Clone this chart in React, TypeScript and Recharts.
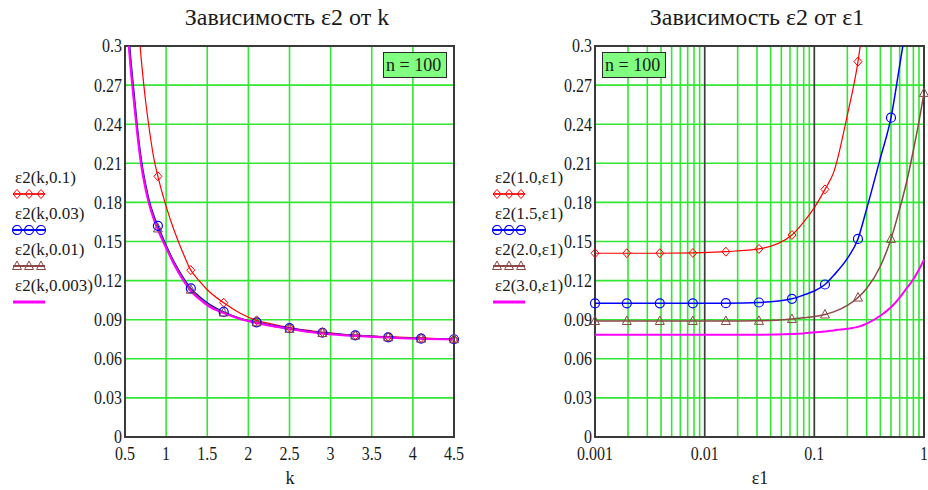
import React from "react";
import {
  LineChart,
  Line,
  XAxis,
  YAxis,
  CartesianGrid,
  ReferenceLine,
  ReferenceArea,
} from "recharts";

// ---- left chart: ε2 vs k ----
const kValues = [
  0.5, 0.55, 0.6, 0.65, 0.7, 0.75, 0.8, 0.85, 0.9, 1.0, 1.1, 1.2, 1.3, 1.4,
  1.5, 1.7, 1.9, 2.1, 2.3, 2.5, 2.7, 2.9, 3.3, 3.7, 4.1, 4.5,
];
const e2k01 = [
  0.5, 0.43, 0.37, 0.325, 0.288, 0.258, 0.234, 0.214, 0.2, 0.177, 0.158, 0.142,
  0.128, 0.12, 0.113, 0.103, 0.095, 0.0895, 0.0865, 0.084, 0.082, 0.0805,
  0.078, 0.077, 0.076, 0.075,
];
const e2k003 = [
  0.36, 0.306, 0.27, 0.238, 0.212, 0.194, 0.18, 0.17, 0.162, 0.147, 0.134,
  0.123, 0.114, 0.108, 0.103, 0.096, 0.091, 0.088, 0.0855, 0.0835, 0.0815,
  0.08, 0.078, 0.0765, 0.0755, 0.075,
];
const e2k001 = [
  0.355, 0.3, 0.265, 0.234, 0.209, 0.192, 0.178, 0.168, 0.16, 0.146, 0.133,
  0.122, 0.113, 0.107, 0.102, 0.0955, 0.091, 0.088, 0.085, 0.083, 0.081,
  0.0798, 0.0778, 0.0765, 0.0755, 0.075,
];
const e2k0003 = [
  0.35, 0.297, 0.262, 0.232, 0.207, 0.19, 0.177, 0.167, 0.159, 0.145, 0.132,
  0.121, 0.112, 0.106, 0.101, 0.095, 0.0905, 0.0875, 0.085, 0.083, 0.081,
  0.0795, 0.0775, 0.0763, 0.0753, 0.0748,
];
const kMarks = [0.9, 1.3, 1.7, 2.1, 2.5, 2.9, 3.3, 3.7, 4.1, 4.5];
const kTicks = [0.5, 1, 1.5, 2, 2.5, 3, 3.5, 4, 4.5];

// ---- right chart: ε2 vs ε1 (log) ----
const e1Values = [
  0.001, 0.00195, 0.0039, 0.0078, 0.0156, 0.03125, 0.0625, 0.08, 0.1, 0.125,
  0.15, 0.2, 0.25, 0.3, 0.4, 0.5, 0.6, 0.7, 0.8, 0.9, 1,
];
const e2k10 = [
  0.141, 0.141, 0.141, 0.1412, 0.1422, 0.1443, 0.155, 0.165, 0.176, 0.19,
  0.203, 0.247, 0.288, 0.34, null, null, null, null, null, null, null,
];
const e2k15 = [
  0.1026, 0.1026, 0.1026, 0.1026, 0.1027, 0.1032, 0.106, 0.109, 0.112, 0.117,
  0.124, 0.137, 0.152, 0.175, 0.214, 0.245, 0.285, 0.32, null, null, null,
];
const e2k20 = [
  0.089, 0.089, 0.089, 0.089, 0.089, 0.0891, 0.0905, 0.0915, 0.0925, 0.094,
  0.096, 0.101, 0.107, 0.114, 0.131, 0.152, 0.175, 0.197, 0.22, 0.242, 0.264,
];
const e2k30 = [
  0.0785, 0.0785, 0.0785, 0.0785, 0.0785, 0.0785, 0.079, 0.0795, 0.0803, 0.081,
  0.0818, 0.083, 0.0845, 0.087, 0.093, 0.0995, 0.107, 0.1145, 0.121, 0.1285,
  0.136,
];
const e1Marks = [
  0.001, 0.00195, 0.0039, 0.0078, 0.0156, 0.03125, 0.0625, 0.125, 0.25, 0.5, 1,
];
const e1Ticks = [
  0.001, 0.002, 0.003, 0.004, 0.005, 0.006, 0.007, 0.008, 0.009, 0.01, 0.02,
  0.03, 0.04, 0.05, 0.06, 0.07, 0.08, 0.09, 0.1, 0.2, 0.3, 0.4, 0.5, 0.6, 0.7,
  0.8, 0.9, 1,
];
const e1Labels = [0.001, 0.01, 0.1, 1];

const yTicks = [0, 0.03, 0.06, 0.09, 0.12, 0.15, 0.18, 0.21, 0.24, 0.27, 0.3];

const leftLegend = ["ε2(k,0.1)", "ε2(k,0.03)", "ε2(k,0.01)", "ε2(k,0.003)"];
const rightLegend = ["ε2(1.0,ε1)", "ε2(1.5,ε1)", "ε2(2.0,ε1)", "ε2(3.0,ε1)"];

const FONT = '"Liberation Serif", "Times New Roman", serif';
const TEXT = "#1a1a1a";
const GRID = "#33e633";
const BORDER = "#3a3a3a";
const RED = "#ff0000";
const BLUE = "#0000ff";
const BROWN = "#8c4646";
const MAGENTA = "#ff00ff";

type Shape = "diamond" | "circle" | "triangle" | "none";

const seriesStyle: { color: string; shape: Shape; width: number }[] = [
  { color: RED, shape: "diamond", width: 1.2 },
  { color: BLUE, shape: "circle", width: 1.5 },
  { color: BROWN, shape: "triangle", width: 1.5 },
  { color: MAGENTA, shape: "none", width: 2 },
];

function marker(shape: Shape, color: string, cx: number, cy: number, key?: any) {
  if (shape === "diamond")
    return (
      <polygon
        key={key}
        points={`${cx},${cy - 4.5} ${cx + 4},${cy} ${cx},${cy + 4.5} ${cx - 4},${cy}`}
        fill="none"
        stroke={color}
        strokeWidth={1}
      />
    );
  if (shape === "circle")
    return <circle key={key} cx={cx} cy={cy} r={4.5} fill="none" stroke={color} strokeWidth={1.2} />;
  if (shape === "triangle")
    return (
      <polygon
        key={key}
        points={`${cx},${cy - 5} ${cx + 4.5},${cy + 3.5} ${cx - 4.5},${cy + 3.5}`}
        fill="none"
        stroke={color}
        strokeWidth={1}
      />
    );
  return <g key={key} />;
}

function dotRenderer(shape: Shape, color: string, marks: number[], field: string) {
  return (props: any) => {
    const { cx, cy, payload, index } = props;
    if (cx == null || cy == null || !marks.includes(payload[field])) return <g key={index} />;
    return marker(shape, color, cx, cy, index);
  };
}

// Mathcad tick text looks a bit taller than plain Times, so stretch it vertically
function makeTick(side: "x" | "y", labels?: number[]) {
  return (props: any) => {
    const { x, y, payload } = props;
    const v = payload.value;
    if (labels && !labels.includes(v)) return <g />;
    return (
      <text
        x={x}
        y={y}
        dy={side === "x" ? "0.71em" : "0.35em"}
        textAnchor={side === "x" ? "middle" : "end"}
        fontSize={16}
        fontFamily={FONT}
        fill={TEXT}
        transform={`translate(0 ${y}) scale(1 1.15) translate(0 ${-y})`}
      >
        {String(v)}
      </text>
    );
  };
}

function Legend({ labels, left }: { labels: string[]; left: number }) {
  return (
    <div style={{ position: "absolute", left, top: 168, fontFamily: FONT, fontSize: 17, color: TEXT }}>
      {labels.map((t, i) => (
        <div key={t} style={{ height: 36, position: "relative" }}>
          <div style={{ position: "absolute", left: 1, top: 0, whiteSpace: "nowrap", lineHeight: "20px" }}>{t}</div>
          <svg width={40} height={10} style={{ position: "absolute", left: -2, top: 21 }}>
            <line x1={1} x2={33} y1={5} y2={5} stroke={seriesStyle[i].color} strokeWidth={seriesStyle[i].width + (i === 3 ? 1 : 0.5)} />
            {[5, 17, 29].map((x) => marker(seriesStyle[i].shape, seriesStyle[i].color, x, 5, x))}
          </svg>
        </div>
      ))}
    </div>
  );
}

function NBox({ left }: { left: number }) {
  return (
    <div
      style={{
        position: "absolute",
        left,
        top: 52,
        width: 64,
        height: 26,
        background: "#80ff80",
        border: "1.5px solid #2a2a2a",
        fontFamily: FONT,
        fontSize: 18,
        lineHeight: "25px",
        paddingLeft: 2,
        boxSizing: "border-box",
        whiteSpace: "nowrap",
        color: TEXT,
      }}
    >
      n = 100
    </div>
  );
}

function Title({ text, cx }: { text: string; cx: number }) {
  return (
    <div
      style={{
        position: "absolute",
        left: cx - 150,
        width: 300,
        top: 4,
        textAlign: "center",
        fontFamily: FONT,
        fontSize: 24,
        color: TEXT,
      }}
    >
      {text}
    </div>
  );
}

function AxisName({ text, cx }: { text: string; cx: number }) {
  return (
    <div
      style={{
        position: "absolute",
        left: cx - 30,
        width: 60,
        top: 468,
        textAlign: "center",
        fontFamily: FONT,
        fontSize: 18,
        color: TEXT,
      }}
    >
      {text}
    </div>
  );
}

export default function App() {
  const leftData = kValues.map((k, i) => ({
    k,
    s0: e2k01[i],
    s1: e2k003[i],
    s2: e2k001[i],
    s3: e2k0003[i],
  }));
  const rightData = e1Values.map((e, i) => ({
    e,
    s0: e2k10[i],
    s1: e2k15[i],
    s2: e2k20[i],
    s3: e2k30[i],
  }));

  const margin = { top: 46, bottom: 23, left: 85 };

  return (
    <div style={{ position: "absolute", left: 0, top: 0, width: 928, height: 490, background: "#fff", overflow: "hidden" }}>
      <Title text="Зависимость ε2 от k" cx={287} />
      <Title text="Зависимость ε2 от ε1" cx={757} />

      <div style={{ position: "absolute", left: 0, top: 0 }}>
        <LineChart width={470} height={490} data={leftData} margin={{ ...margin, right: 16 }}>
          <CartesianGrid stroke={GRID} strokeWidth={1.6} />
          <XAxis
            dataKey="k"
            type="number"
            domain={[0.5, 4.5]}
            ticks={kTicks}
            interval={0}
            height={30}
            tickSize={0}
            tickMargin={10}
            axisLine={false}
            tick={makeTick("x")}
          />
          <YAxis
            type="number"
            domain={[0, 0.3]}
            ticks={yTicks}
            interval={0}
            allowDataOverflow
            width={40}
            tickSize={0}
            tickMargin={3}
            axisLine={false}
            tick={makeTick("y")}
          />
          {seriesStyle.map((s, i) => (
            <Line
              key={i}
              dataKey={`s${i}`}
              type="monotone"
              stroke={s.color}
              strokeWidth={s.width}
              dot={dotRenderer(s.shape, s.color, kMarks, "k")}
              activeDot={false}
              isAnimationActive={false}
            />
          ))}
          <ReferenceArea x1={0.5} x2={4.5} y1={0} y2={0.3} fill="none" stroke={BORDER} strokeWidth={2} />
        </LineChart>
      </div>

      <div style={{ position: "absolute", left: 470, top: 0 }}>
        <LineChart width={458} height={490} data={rightData} margin={{ ...margin, right: 4 }}>
          <CartesianGrid stroke={GRID} strokeWidth={1.6} />
          <XAxis
            dataKey="e"
            type="number"
            scale="log"
            domain={[0.001, 1]}
            ticks={e1Ticks}
            interval={0}
            height={30}
            tickSize={0}
            tickMargin={10}
            axisLine={false}
            tick={makeTick("x", e1Labels)}
          />
          <YAxis
            type="number"
            domain={[0, 0.3]}
            ticks={yTicks}
            interval={0}
            allowDataOverflow
            width={40}
            tickSize={0}
            tickMargin={3}
            axisLine={false}
            tick={makeTick("y")}
          />
          <ReferenceLine x={0.01} stroke={BORDER} strokeWidth={1.5} />
          <ReferenceLine x={0.1} stroke={BORDER} strokeWidth={1.5} />
          {seriesStyle.map((s, i) => (
            <Line
              key={i}
              dataKey={`s${i}`}
              type="monotone"
              stroke={s.color}
              strokeWidth={s.width}
              dot={dotRenderer(s.shape, s.color, e1Marks, "e")}
              activeDot={false}
              isAnimationActive={false}
            />
          ))}
          <ReferenceArea x1={0.001} x2={1} y1={0} y2={0.3} fill="none" stroke={BORDER} strokeWidth={2} />
        </LineChart>
      </div>

      <Legend labels={leftLegend} left={14} />
      <Legend labels={rightLegend} left={494} />
      <NBox left={383} />
      <NBox left={602} />
      <AxisName text="k" cx={290} />
      <AxisName text="ε1" cx={760} />
    </div>
  );
}
